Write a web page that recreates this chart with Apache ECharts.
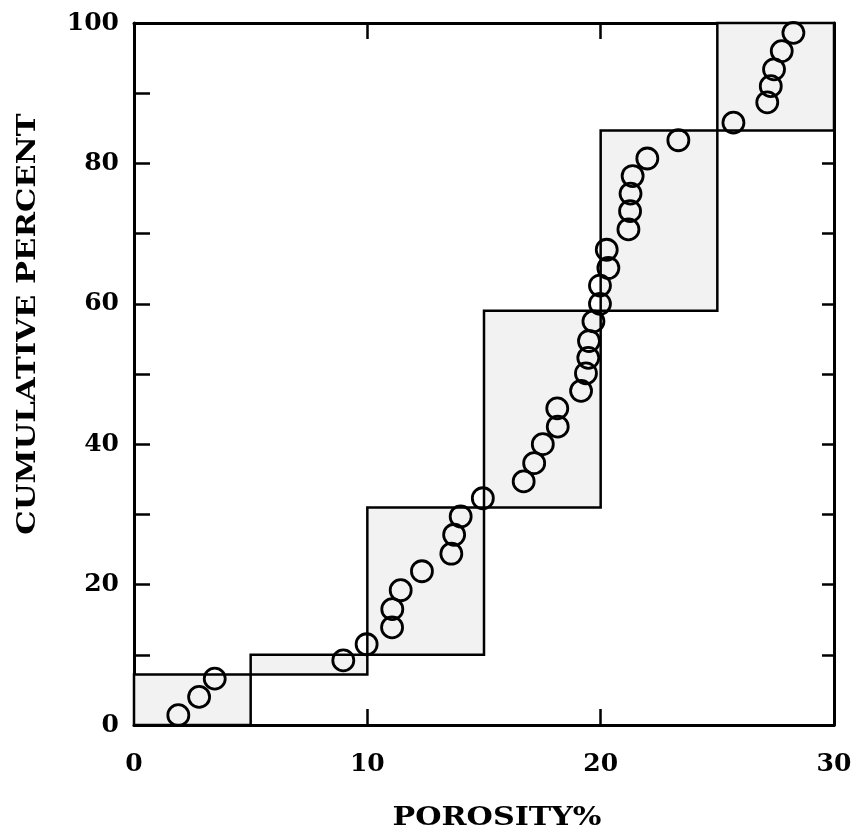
<!DOCTYPE html>
<html>
<head>
<meta charset="utf-8">
<script src="https://cdn.jsdelivr.net/npm/echarts@6/dist/echarts.min.js"></script>
<style>
  html, body { margin: 0; padding: 0; background: #fff; }
  #chart { width: 860px; height: 838px; }
</style>
</head>
<body>
<div id="chart"></div>
<script>
// Porosity class edges (%) and cumulative percent at each edge
const binEdges = [0, 5, 10, 15, 20, 25, 30];
const cumEdges = [0, 7.2, 10, 31, 59, 84.7, 100];

// Individual samples: porosity (%) and cumulative percent
const porosity = [1.9, 2.79, 3.46, 8.97, 9.97, 11.06, 11.07, 11.43, 12.34, 13.6,
  13.72, 14.0, 14.95, 16.7, 17.15, 17.52, 18.16, 18.14, 19.16, 19.37,
  19.47, 19.5, 19.69, 19.97, 19.97, 20.33, 20.26, 21.19, 21.26, 21.28,
  21.37, 22.0, 23.33, 25.69, 27.14, 27.29, 27.43, 27.76, 28.26];
const cumPercent = [1.4, 4.0, 6.6, 9.2, 11.5, 13.9, 16.5, 19.2, 21.9, 24.4,
  27.1, 29.7, 32.3, 34.7, 37.3, 40.0, 42.5, 45.1, 47.6, 50.1,
  52.3, 54.7, 57.5, 60.0, 62.6, 65.1, 67.7, 70.6, 73.2, 75.7,
  78.2, 80.7, 83.3, 85.8, 88.7, 91.0, 93.4, 96.0, 98.6];

const xTicks = [0, 10, 20, 30];
const yTicks = [0, 20, 40, 60, 80, 100];

const FONT = '"DejaVu Serif", "Liberation Serif", serif';

const boxData = [];
for (let i = 0; i < binEdges.length - 1; i++) {
  boxData.push([binEdges[i], binEdges[i + 1], cumEdges[i], cumEdges[i + 1]]);
}
const pointData = porosity.map((x, i) => [x, cumPercent[i]]);

const chart = echarts.init(document.getElementById('chart'));

const axisLine = { show: true, onZero: false, lineStyle: { color: '#000', width: 3 } };
const labelStyle = { color: '#000', fontFamily: FONT, fontWeight: 'bold', fontSize: 25 };
const tick = len => ({ show: true, inside: true, length: len, lineStyle: { color: '#000', width: 2.5 } });

chart.setOption({
  animation: false,
  backgroundColor: '#fff',
  grid: { left: 134, right: 26, top: 23, bottom: 113, containLabel: false },
  xAxis: [
    {
      type: 'value', min: 0, max: 30, interval: 10, position: 'bottom',
      axisLine: axisLine, axisTick: tick(16),
      axisLabel: Object.assign({ margin: 27,
        formatter: v => (xTicks.indexOf(v) >= 0 ? String(v) : '') }, labelStyle),
      splitLine: { show: false }
    },
    {
      type: 'value', min: 0, max: 30, interval: 10, position: 'top',
      axisLine: axisLine, axisTick: tick(16),
      axisLabel: { show: false },
      splitLine: { show: false }
    }
  ],
  yAxis: [
    {
      type: 'value', min: 0, max: 100, interval: 10, position: 'left',
      axisLine: axisLine, axisTick: tick(16),
      axisLabel: Object.assign({ margin: 15,
        formatter: v => (yTicks.indexOf(v) >= 0 ? String(v) : '') }, labelStyle),
      splitLine: { show: false }
    },
    {
      type: 'value', min: 0, max: 100, interval: 10, position: 'right',
      axisLine: axisLine, axisTick: tick(12),
      axisLabel: { show: false },
      splitLine: { show: false }
    }
  ],
  graphic: [
    {
      type: 'text', x: 497, y: 818, scaleX: 1.16,
      style: { text: 'POROSITY%', fill: '#000', font: 'bold 26px ' + FONT,
        textAlign: 'center', textVerticalAlign: 'middle' }
    },
    {
      type: 'text', x: 28, y: 324, rotation: Math.PI / 2, scaleX: 1.18,
      style: { text: 'CUMULATIVE PERCENT', fill: '#000', font: 'bold 26px ' + FONT,
        textAlign: 'center', textVerticalAlign: 'middle' }
    }
  ],
  series: [
    {
      type: 'custom',
      xAxisIndex: 0, yAxisIndex: 0,
      data: boxData,
      silent: true,
      z: 1,
      renderItem: function (params, api) {
        const topLeft = api.coord([api.value(0), api.value(3)]);
        const bottomRight = api.coord([api.value(1), api.value(2)]);
        return {
          type: 'rect',
          shape: {
            x: topLeft[0], y: topLeft[1],
            width: bottomRight[0] - topLeft[0],
            height: bottomRight[1] - topLeft[1]
          },
          style: { fill: '#f2f2f2', stroke: '#000', lineWidth: 2.5 }
        };
      }
    },
    {
      type: 'scatter',
      xAxisIndex: 0, yAxisIndex: 0,
      data: pointData,
      symbol: 'circle',
      symbolSize: 21,
      z: 3,
      itemStyle: { color: 'rgba(0,0,0,0)', borderColor: '#000', borderWidth: 2.8, opacity: 1 }
    }
  ]
});
</script>
</body>
</html>
